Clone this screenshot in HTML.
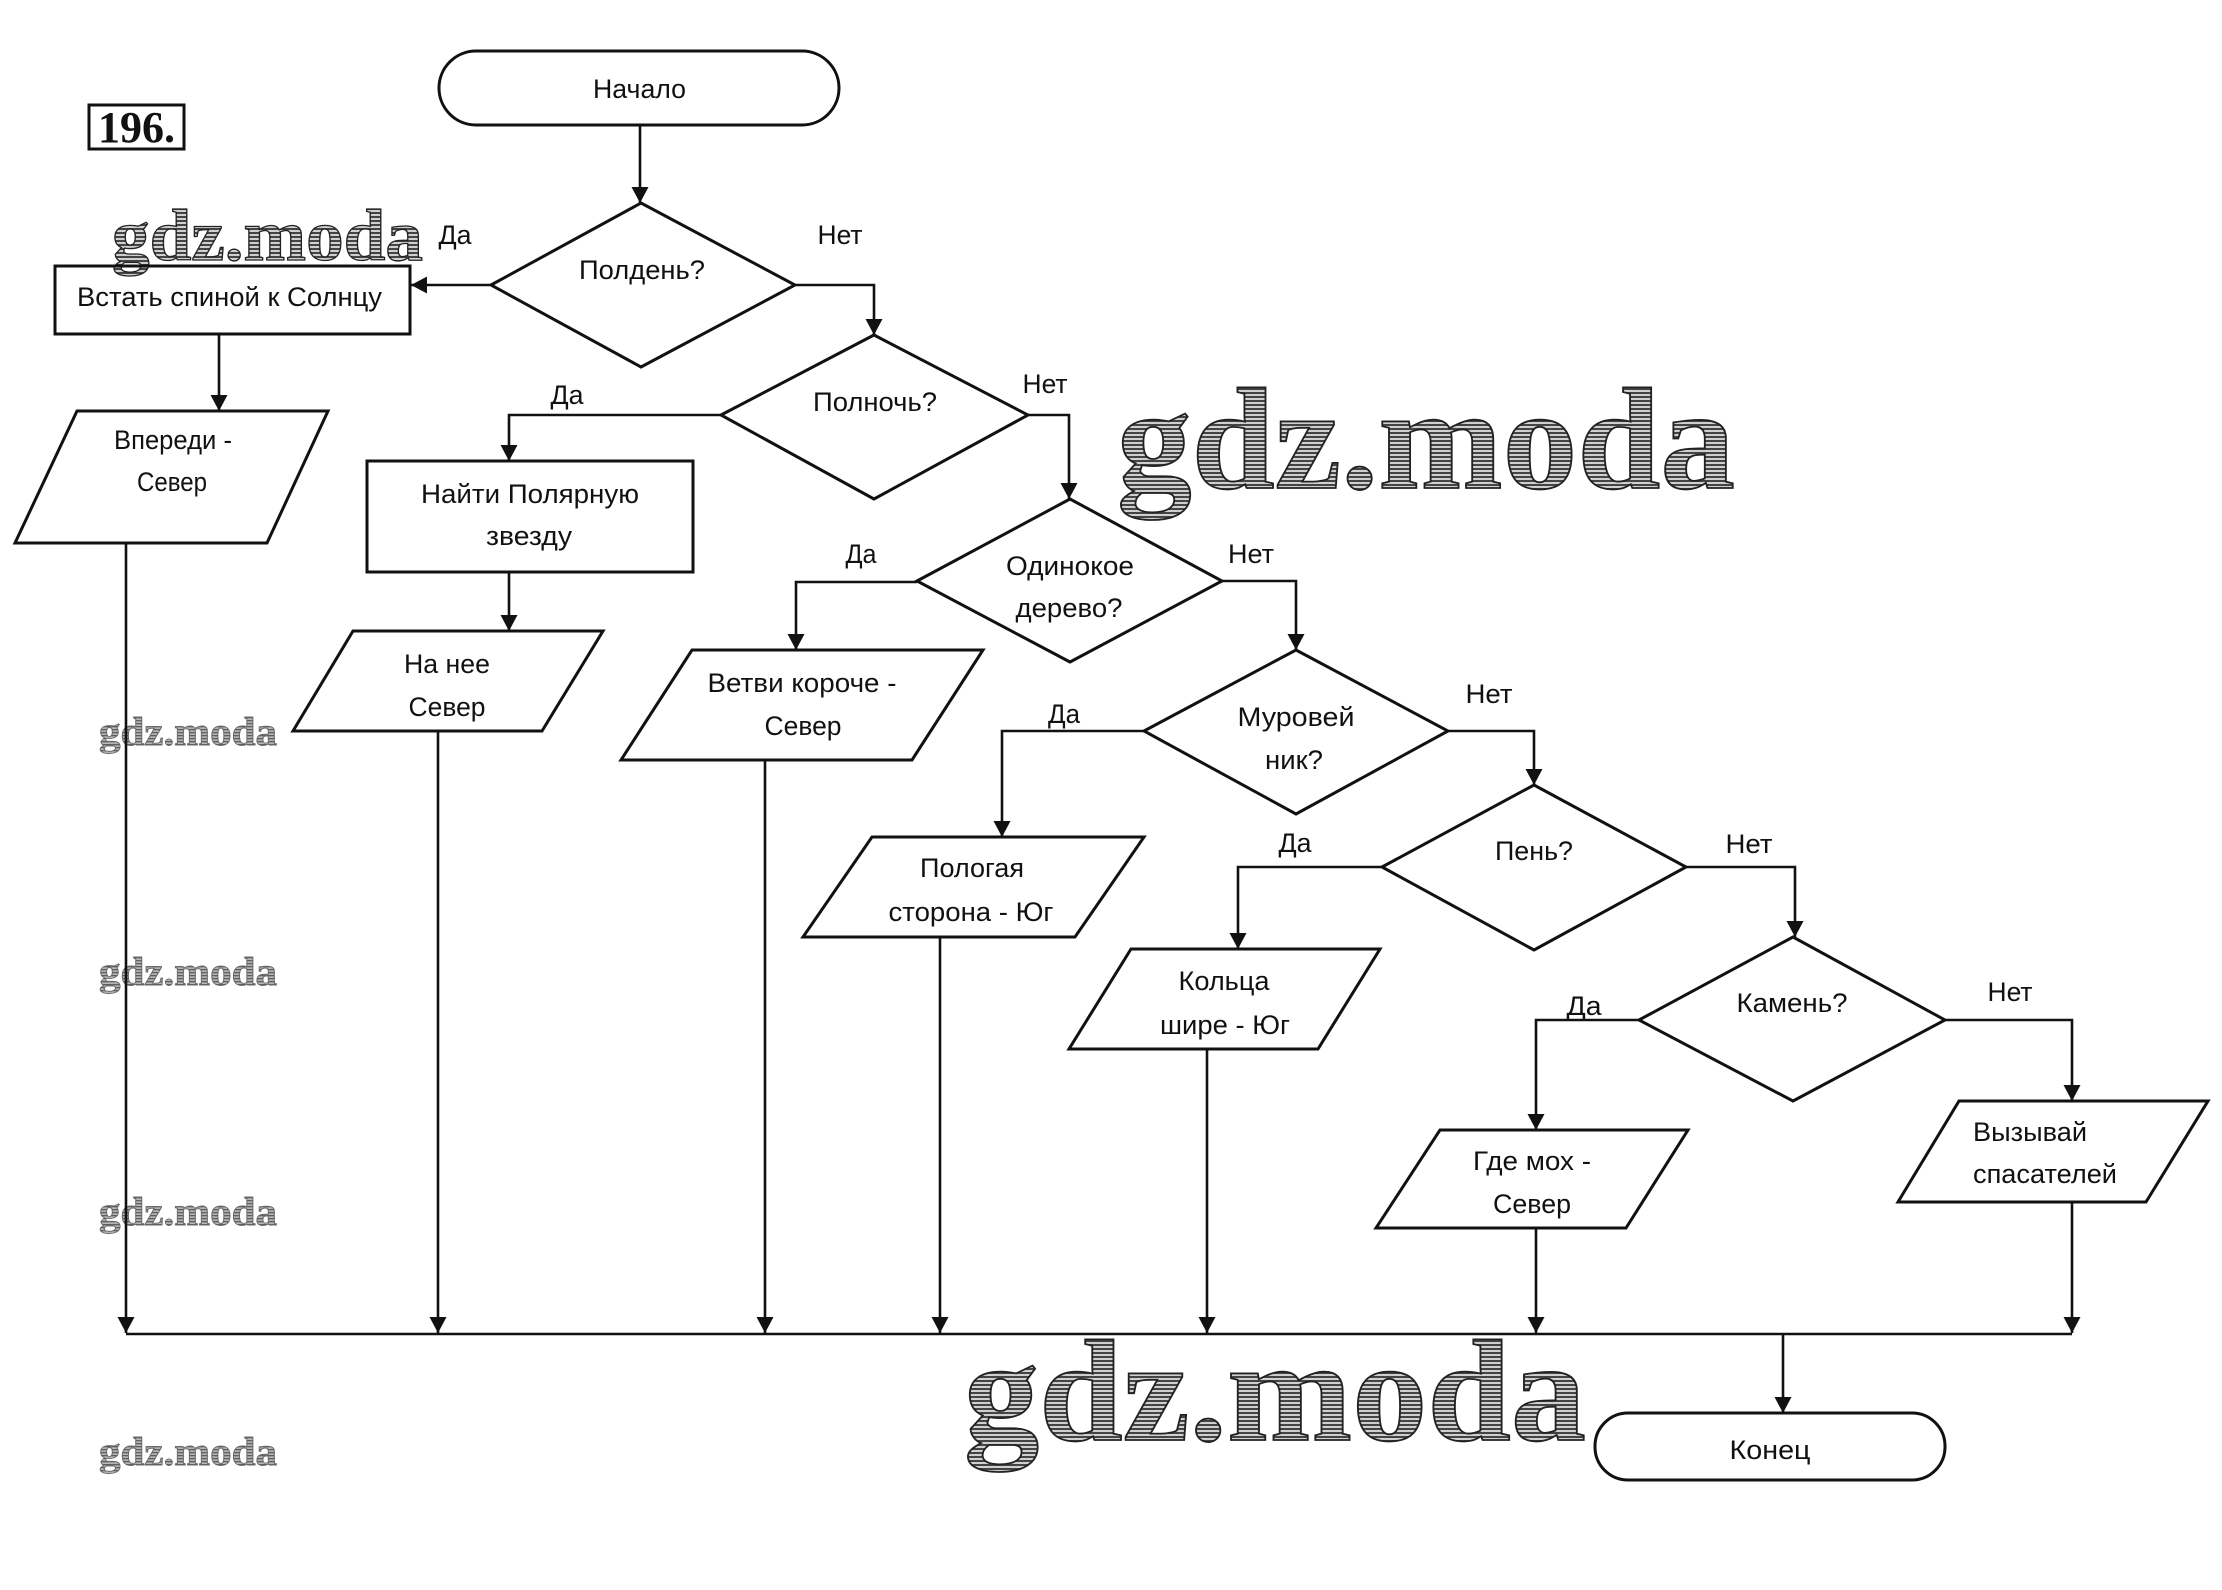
<!DOCTYPE html>
<html><head><meta charset="utf-8"><style>
html,body{margin:0;padding:0;background:#fff;}
svg{display:block;}
.t{font-family:"Liberation Sans","DejaVu Sans",sans-serif;font-size:27px;fill:#111;text-anchor:middle;}
.s{fill:none;stroke:#111;stroke-width:3;stroke-linejoin:miter;}
.c{fill:none;stroke:#111;stroke-width:2.6;}
.wm{font-family:"Liberation Serif",serif;font-weight:bold;fill:url(#hatch);stroke:#222;stroke-width:1.8;}
.wms{font-family:"Liberation Serif",serif;font-weight:bold;fill:url(#hatch2);stroke:#6a6a6a;stroke-width:0.9;}
</style></head><body>
<svg width="2222" height="1590" viewBox="0 0 2222 1590" xmlns="http://www.w3.org/2000/svg">
<defs>
<pattern id="hatch" width="6" height="4" patternUnits="userSpaceOnUse">
<rect width="6" height="4" fill="#cfcfcf"/>
<rect y="0" width="6" height="2" fill="#444"/>
</pattern>
<pattern id="hatch2" width="4" height="3" patternUnits="userSpaceOnUse">
<rect width="4" height="3" fill="#b5b5b5"/>
<rect y="0" width="4" height="1.3" fill="#5e5e5e"/>
</pattern>
<marker id="a" viewBox="0 0 16 17" refX="16" refY="8.5" markerWidth="16" markerHeight="17" markerUnits="userSpaceOnUse" orient="auto">
<path d="M0,0 L16,8.5 L0,17 Z" fill="#111"/>
</marker>
</defs>

<!-- watermarks -->
<text class="wm" x="1117" y="488" font-size="145" textLength="618" lengthAdjust="spacingAndGlyphs">gdz.moda</text>
<text class="wm" x="964" y="1440" font-size="145" textLength="622" lengthAdjust="spacingAndGlyphs">gdz.moda</text>
<text class="wm" x="112" y="260" font-size="73" textLength="311" lengthAdjust="spacingAndGlyphs" style="stroke-width:1.3">gdz.moda</text>
<text class="wms" x="99" y="745" font-size="40" textLength="178" lengthAdjust="spacingAndGlyphs">gdz.moda</text>
<text class="wms" x="99" y="985" font-size="40" textLength="178" lengthAdjust="spacingAndGlyphs">gdz.moda</text>
<text class="wms" x="99" y="1225" font-size="40" textLength="178" lengthAdjust="spacingAndGlyphs">gdz.moda</text>
<text class="wms" x="99" y="1465" font-size="40" textLength="178" lengthAdjust="spacingAndGlyphs">gdz.moda</text>

<!-- 196. -->
<rect x="89" y="105" width="95" height="44" fill="none" stroke="#111" stroke-width="3"/>
<text x="98" y="142" font-family="'Liberation Serif',serif" font-weight="bold" font-size="44" fill="#111" textLength="77" lengthAdjust="spacingAndGlyphs">196.</text>

<!-- shapes -->
<rect class="s" x="439" y="51" width="400" height="74" rx="37" ry="37"/>
<polygon class="s" points="491,285 641,203 795,285 641,367"/>
<rect class="s" x="55" y="266" width="355" height="68"/>
<polygon class="s" points="77,411 328,411 267,543 15,543"/>
<polygon class="s" points="721,415 874,335 1028,415 874,499"/>
<rect class="s" x="367" y="461" width="326" height="111"/>
<polygon class="s" points="353,631 603,631 542,731 293,731"/>
<polygon class="s" points="917,581 1070,499 1222,581 1070,662"/>
<polygon class="s" points="692,650 983,650 912,760 621,760"/>
<polygon class="s" points="1144,731 1296,650 1448,731 1296,814"/>
<polygon class="s" points="872,837 1144,837 1075,937 803,937"/>
<polygon class="s" points="1382,867 1534,785 1686,867 1534,950"/>
<polygon class="s" points="1131,949 1380,949 1318,1049 1069,1049"/>
<polygon class="s" points="1639,1020 1793,937 1945,1020 1793,1101"/>
<polygon class="s" points="1440,1130 1688,1130 1626,1228 1376,1228"/>
<polygon class="s" points="1959,1101 2208,1101 2146,1202 1898,1202"/>
<rect class="s" x="1595" y="1413" width="350" height="67" rx="33" ry="33"/>

<!-- connectors -->
<path class="c" d="M640,125 L640,203" marker-end="url(#a)"/>
<path class="c" d="M491,285 L411,285" marker-end="url(#a)"/>
<path class="c" d="M219,334 L219,411" marker-end="url(#a)"/>
<path class="c" d="M126,543 L126,1333" marker-end="url(#a)"/>
<path class="c" d="M795,285 L874,285 L874,335" marker-end="url(#a)"/>
<path class="c" d="M721,415 L509,415 L509,461" marker-end="url(#a)"/>
<path class="c" d="M509,572 L509,631" marker-end="url(#a)"/>
<path class="c" d="M438,731 L438,1333" marker-end="url(#a)"/>
<path class="c" d="M1028,415 L1069,415 L1069,499" marker-end="url(#a)"/>
<path class="c" d="M917,582 L796,582 L796,650" marker-end="url(#a)"/>
<path class="c" d="M765,760 L765,1333" marker-end="url(#a)"/>
<path class="c" d="M1222,581 L1296,581 L1296,650" marker-end="url(#a)"/>
<path class="c" d="M1144,731 L1002,731 L1002,837" marker-end="url(#a)"/>
<path class="c" d="M940,937 L940,1333" marker-end="url(#a)"/>
<path class="c" d="M1448,731 L1534,731 L1534,785" marker-end="url(#a)"/>
<path class="c" d="M1382,867 L1238,867 L1238,949" marker-end="url(#a)"/>
<path class="c" d="M1207,1049 L1207,1333" marker-end="url(#a)"/>
<path class="c" d="M1686,867 L1795,867 L1795,937" marker-end="url(#a)"/>
<path class="c" d="M1639,1020 L1536,1020 L1536,1130" marker-end="url(#a)"/>
<path class="c" d="M1536,1228 L1536,1333" marker-end="url(#a)"/>
<path class="c" d="M1945,1020 L2072,1020 L2072,1101" marker-end="url(#a)"/>
<path class="c" d="M2072,1202 L2072,1333" marker-end="url(#a)"/>
<path class="c" d="M126,1334 L2072,1334"/>
<path class="c" d="M1783,1334 L1783,1413" marker-end="url(#a)"/>

<!-- labels -->
<text class="t" x="639.5" y="98" textLength="93" lengthAdjust="spacingAndGlyphs">Начало</text>
<text class="t" x="455" y="244" textLength="33" lengthAdjust="spacingAndGlyphs">Да</text>
<text class="t" x="840" y="244" textLength="45" lengthAdjust="spacingAndGlyphs">Нет</text>
<text class="t" x="642" y="279" textLength="126" lengthAdjust="spacingAndGlyphs">Полдень?</text>
<text class="t" x="229.5" y="306" textLength="305" lengthAdjust="spacingAndGlyphs">Встать спиной к Солнцу</text>
<text class="t" x="173" y="449" textLength="118" lengthAdjust="spacingAndGlyphs">Впереди -</text>
<text class="t" x="172" y="491" textLength="70" lengthAdjust="spacingAndGlyphs">Север</text>
<text class="t" x="875" y="411" textLength="124" lengthAdjust="spacingAndGlyphs">Полночь?</text>
<text class="t" x="1045" y="393" textLength="45" lengthAdjust="spacingAndGlyphs">Нет</text>
<text class="t" x="567" y="404" textLength="33" lengthAdjust="spacingAndGlyphs">Да</text>
<text class="t" x="530" y="503" textLength="218" lengthAdjust="spacingAndGlyphs">Найти Полярную</text>
<text class="t" x="529" y="545" textLength="86" lengthAdjust="spacingAndGlyphs">звезду</text>
<text class="t" x="861" y="563" textLength="31" lengthAdjust="spacingAndGlyphs">Да</text>
<text class="t" x="1070" y="575" textLength="128" lengthAdjust="spacingAndGlyphs">Одинокое</text>
<text class="t" x="1069" y="617" textLength="107" lengthAdjust="spacingAndGlyphs">дерево?</text>
<text class="t" x="1251" y="563" textLength="46" lengthAdjust="spacingAndGlyphs">Нет</text>
<text class="t" x="1296" y="726" textLength="117" lengthAdjust="spacingAndGlyphs">Муровей</text>
<text class="t" x="1294" y="769" textLength="58" lengthAdjust="spacingAndGlyphs">ник?</text>
<text class="t" x="1489" y="703" textLength="47" lengthAdjust="spacingAndGlyphs">Нет</text>
<text class="t" x="1064" y="723" textLength="32" lengthAdjust="spacingAndGlyphs">Да</text>
<text class="t" x="1534" y="860" textLength="78" lengthAdjust="spacingAndGlyphs">Пень?</text>
<text class="t" x="1295" y="852" textLength="33" lengthAdjust="spacingAndGlyphs">Да</text>
<text class="t" x="1749" y="853" textLength="47" lengthAdjust="spacingAndGlyphs">Нет</text>
<text class="t" x="1792" y="1012" textLength="111" lengthAdjust="spacingAndGlyphs">Камень?</text>
<text class="t" x="2010" y="1001" textLength="45" lengthAdjust="spacingAndGlyphs">Нет</text>
<text class="t" x="1584" y="1015" textLength="35" lengthAdjust="spacingAndGlyphs">Да</text>
<text class="t" x="447" y="673" textLength="86" lengthAdjust="spacingAndGlyphs">На нее</text>
<text class="t" x="447" y="716" textLength="77" lengthAdjust="spacingAndGlyphs">Север</text>
<text class="t" x="802" y="692" textLength="189" lengthAdjust="spacingAndGlyphs">Ветви короче -</text>
<text class="t" x="803" y="735" textLength="77" lengthAdjust="spacingAndGlyphs">Север</text>
<text class="t" x="972" y="877" textLength="104" lengthAdjust="spacingAndGlyphs">Пологая</text>
<text class="t" x="971" y="921" textLength="165" lengthAdjust="spacingAndGlyphs">сторона - Юг</text>
<text class="t" x="1224" y="990" textLength="91" lengthAdjust="spacingAndGlyphs">Кольца</text>
<text class="t" x="1225" y="1034" textLength="130" lengthAdjust="spacingAndGlyphs">шире - Юг</text>
<text class="t" x="1532" y="1170" textLength="118" lengthAdjust="spacingAndGlyphs">Где мох -</text>
<text class="t" x="1532" y="1213" textLength="78" lengthAdjust="spacingAndGlyphs">Север</text>
<text class="t" x="2030" y="1141" textLength="114" lengthAdjust="spacingAndGlyphs">Вызывай</text>
<text class="t" x="2045" y="1183" textLength="144" lengthAdjust="spacingAndGlyphs">спасателей</text>
<text class="t" x="1770" y="1459" textLength="81" lengthAdjust="spacingAndGlyphs">Конец</text>
</svg>
</body></html>
